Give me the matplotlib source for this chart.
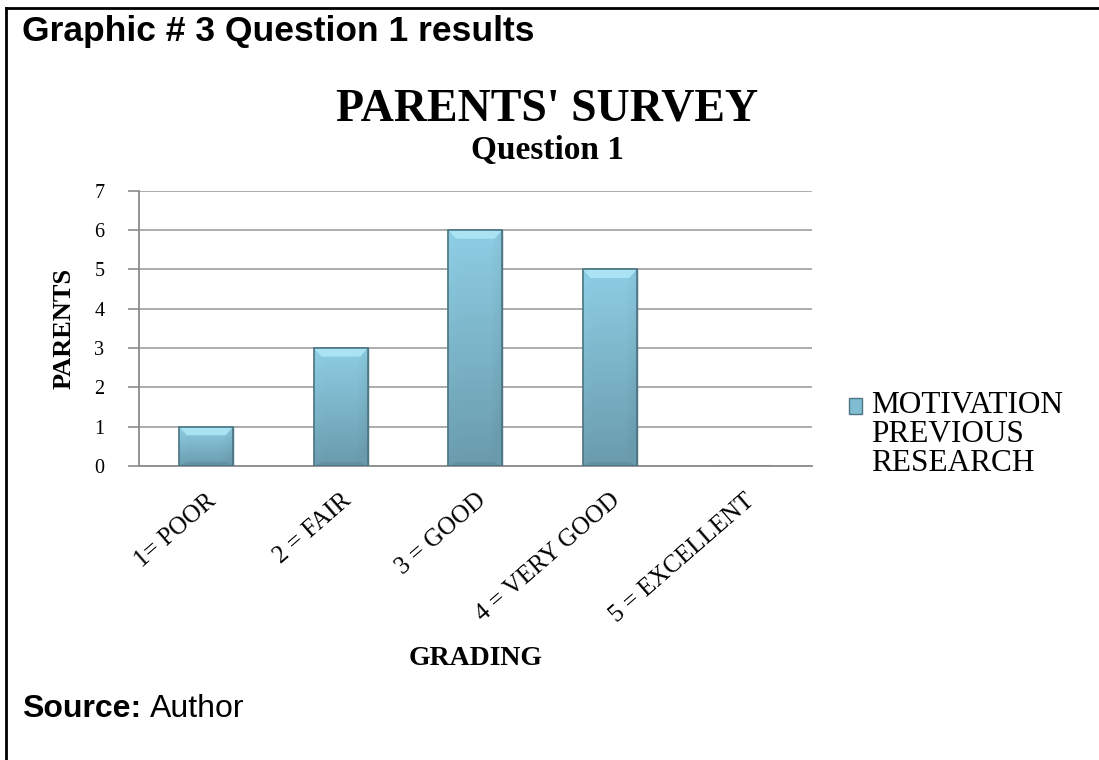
import matplotlib
matplotlib.use("Agg")
import matplotlib.pyplot as plt
import numpy as np
from matplotlib.patches import Rectangle
from matplotlib.legend_handler import HandlerPatch
from matplotlib.lines import Line2D
from matplotlib.colors import LinearSegmentedColormap

# data
categories = ["1= POOR", "2 = FAIR", "3 = GOOD", "4 = VERY GOOD", "5 = EXCELLENT"]
parents = [1, 3, 6, 5, 0]
series_name = "MOTIVATION\nPREVIOUS\nRESEARCH"
y_ticks = [0, 1, 2, 3, 4, 5, 6, 7]

SERIF = "Liberation Serif"
SANS = "Liberation Sans"

fig = plt.figure(figsize=(10.99, 7.6), dpi=100)
ax = fig.add_axes([0.1265, 0.387, 0.612, 0.362])

x = np.arange(len(categories))
bars = ax.bar(x, parents, width=0.4, color="#80bdd2", edgecolor="#4d7584",
              linewidth=1.0, zorder=3)

# gradient fill + bevelled edges for each bar
grad = LinearSegmentedColormap.from_list("g", ["#6a9bad", "#8dcde4"])
for b in bars:
    h = b.get_height()
    if h <= 0:
        continue
    x0, w = b.get_x(), b.get_width()
    img = np.linspace(0, 1, 64).reshape(-1, 1) * np.ones((1, 16))
    side = np.concatenate([np.linspace(0.05, 0, 4), np.zeros(8), np.linspace(0, -0.15, 4)])
    img = np.clip(img + side, 0, 1)
    im = ax.imshow(img, extent=(x0, x0 + w, 0, h), origin="lower", cmap=grad,
                   aspect="auto", zorder=3.5, vmin=0, vmax=1)
    im.set_clip_path(b)
    bw = w * 0.14
    ax.fill([x0, x0 + w, x0 + w - bw, x0 + bw], [h, h, h - 0.22, h - 0.22],
            color="#a9e3f4", zorder=4, lw=0)
    ax.fill([x0, x0 + bw, x0 + w - bw, x0 + w], [0, 0.1, 0.1, 0],
            color="#5f8a9a", zorder=4, lw=0, alpha=0.6)
    ax.add_patch(Rectangle((x0, 0), w, h, fill=False, edgecolor="#4d7584",
                           lw=1.2, zorder=5))

ax.set_xlim(-0.5, len(categories) - 0.5)
ax.set_ylim(0, 7)
ax.set_yticks(y_ticks)
ax.yaxis.grid(True, color="#a6a6a6", linewidth=1.3, zorder=0)
ax.set_axisbelow(True)
for s in ["top", "right"]:
    ax.spines[s].set_visible(False)
for s in ["left", "bottom"]:
    ax.spines[s].set_color("#8c8c8c")
    ax.spines[s].set_linewidth(1.3)
ax.tick_params(axis="y", direction="out", length=8, width=1.2, color="#8c8c8c",
               pad=17, labelsize=14.5)
ax.tick_params(axis="x", length=0, pad=17)
ax.set_xticks(x)
ax.set_xticklabels(categories, rotation=41, ha="right", rotation_mode="anchor",
                   fontsize=18, family=SERIF)
for lab in ax.get_yticklabels():
    lab.set_family(SERIF)

ax.set_ylabel("PARENTS", family=SERIF, fontsize=19, fontweight="bold")
ax.yaxis.set_label_coords(-0.094, 0.5)
ax.set_xlabel("GRADING", family=SERIF, fontsize=20, fontweight="bold")
ax.xaxis.set_label_coords(0.5, -0.655)

fig.text(0.498, 0.842, "PARENTS' SURVEY", family=SERIF, fontsize=33,
         fontweight="bold", ha="center", va="baseline")
fig.text(0.498, 0.791, "Question 1", family=SERIF, fontsize=24,
         fontweight="bold", ha="center", va="baseline")


class FirstLineHandler(HandlerPatch):
    # put the legend square next to the first line of the wrapped label
    def create_artists(self, legend, orig_handle, xdescent, ydescent, width,
                       height, fontsize, trans):
        p = Rectangle((-xdescent, -ydescent + fontsize * 0.92), width, height,
                      facecolor="#80bdd2", edgecolor="#4d7584", lw=1.0)
        p.set_transform(trans)
        return [p]


leg = ax.legend([bars[0]], [series_name],
                handler_map={type(bars[0]): FirstLineHandler()},
                loc="upper left", bbox_to_anchor=(0.758, 0.506),
                bbox_transform=fig.transFigure, frameon=False, borderpad=0,
                prop={"family": SERIF, "size": 22.5}, handlelength=0.42,
                handleheight=0.42, handletextpad=0.3)
leg.get_texts()[0].set_linespacing(1.0)

# header and footer text
fig.text(0.02, 0.946, "Graphic # 3 Question 1 results", family=SANS, fontsize=25.5,
         fontweight="bold", va="baseline")
src = fig.text(0.02, 0.057, "Source:", family=SANS, fontsize=23, fontweight="bold",
               va="baseline")
ax.annotate("Author", xy=(1, 0), xycoords=src, xytext=(6, 0), textcoords="offset points",
            family=SANS, fontsize=23, va="bottom", ha="left", annotation_clip=False)

# document frame
fig.add_artist(Line2D([0.0055, 0.0055], [0.0, 0.989], color="black", lw=2,
                      transform=fig.transFigure))
fig.add_artist(Line2D([0.0055, 1.0], [0.989, 0.989], color="black", lw=2,
                      transform=fig.transFigure))

fig.savefig("out.png", dpi=100)
